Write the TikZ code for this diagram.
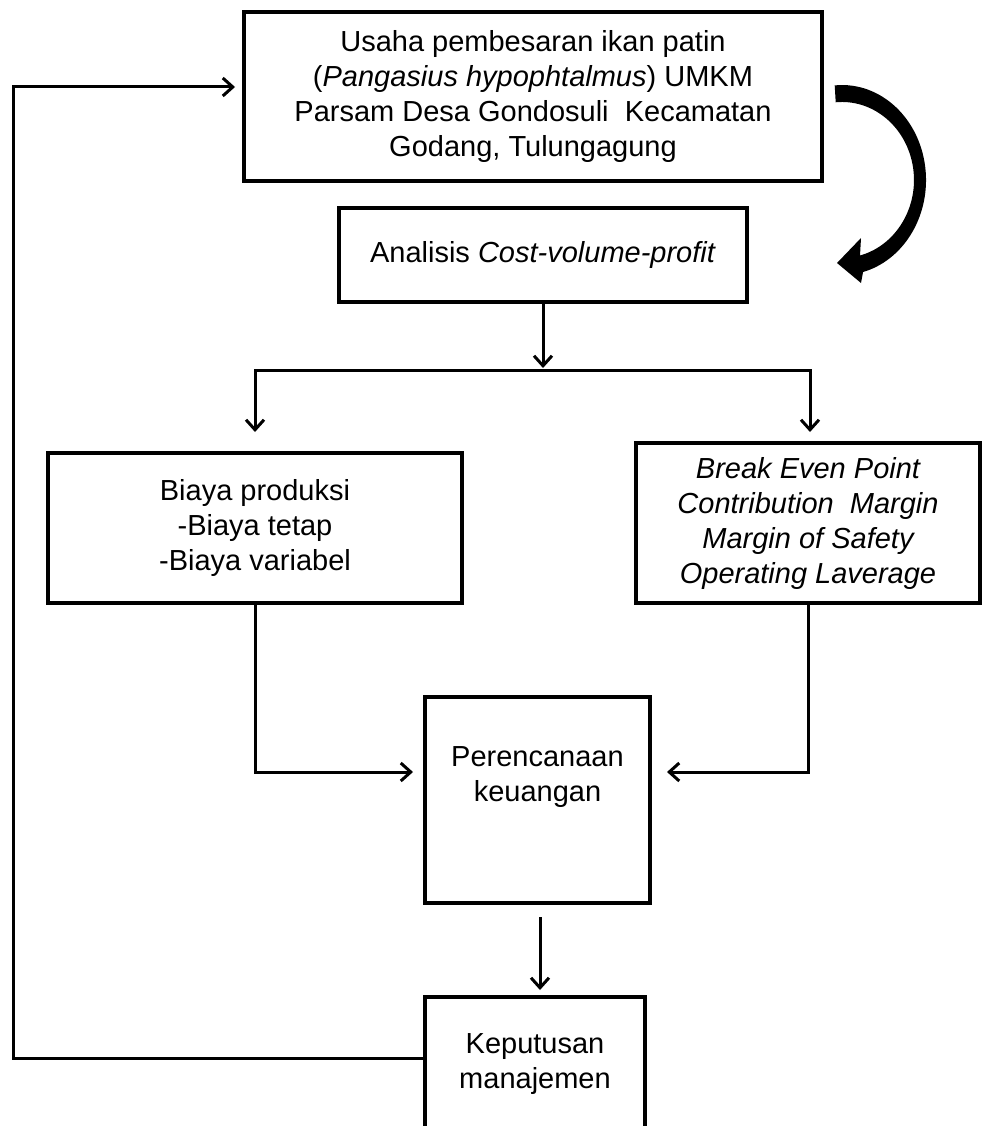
\documentclass[tikz,border=0pt]{standalone}
\usepackage{fontspec}
\setmainfont{Liberation Sans}
\usetikzlibrary{arrows.meta,calc}
\begin{document}
\begin{tikzpicture}[x=1pt,y=1pt,
  box/.style={draw=black,line width=3.2pt,rectangle,inner sep=0pt,align=center,
    font=\fontsize{29}{35}\selectfont},
  txt/.style={inner sep=0pt,align=center,font=\fontsize{29}{35}\selectfont},
  arr/.style={line width=3pt,-{Straight Barb[length=10pt,width=18pt]}},
  conn/.style={line width=3pt}]
\useasboundingbox (0,0) rectangle (982,-1126);
\begin{scope}
\clip (0,0) rectangle (982,-1126);
% boxes
\node[box,minimum width=578pt,minimum height=169pt] (top) at (533,-96.5)
  {Usaha pembesaran ikan patin\\(\textit{Pangasius hypophtalmus}) UMKM\\Parsam Desa Gondosuli\ \ Kecamatan\\Godang, Tulungagung};
\node[box,minimum width=408pt,minimum height=94pt] (anal) at (543,-255)
  {Analisis \textit{Cost-volume-profit}};
\node[box,minimum width=414pt,minimum height=150pt] (biaya) at (255,-528)
  {Biaya produksi\\-Biaya tetap\\-Biaya variabel};
\node[box,minimum width=344pt,minimum height=160pt] (bep) at (808,-523)
  {\itshape Break Even Point\\\itshape Contribution\ \ Margin\\\itshape Margin of Safety\\\itshape Operating Laverage};
\node[box,minimum width=225pt,minimum height=206pt] (plan) at (537.5,-800) {};
\node[txt] (plantxt) at (537.5,-777) {Perencanaan\\keuangan};
\node[box,minimum width=220pt,minimum height=160pt] (dec) at (535,-1077) {};
\node[txt] (dectxt) at (535,-1064) {Keputusan\\manajemen};
% coordinates
\coordinate (split) at (543,-368);
\coordinate (L) at (255,-370);
\coordinate (R) at (810,-370);
\coordinate (Lend) at (255,-432);
\coordinate (Rend) at (810,-432);
\coordinate (pinL) at (413,-772);
\coordinate (pinR) at (667,-772);
\coordinate (a1) at (540,-917);
\coordinate (a2) at (540,-990);
\coordinate (fbS) at (425,-1058);
\coordinate (fbA) at (13,-1058);
\coordinate (fbB) at (235,-87);
% connectors
\draw[arr] (anal.south) -- (split);
\draw[conn,line cap=rect] (L) -- (R);
\draw[arr] (L) -- (Lend);
\draw[arr] (R) -- (Rend);
\draw[arr] (biaya.south) |- (pinL);
\draw[arr] (bep.south) |- (pinR);
\draw[arr] (a1) -- (a2);
\draw[arr] (fbS) -- (fbA) |- (fbB);
% curved thick arrow
\fill[black] (834.7,-85.4) arc[start angle=95,end angle=-75.5,x radius=84pt,y radius=95pt]
  -- (861,-283) -- (837,-263) -- (861,-238) -- (860,-255.5)
  arc[start angle=-75.5,end angle=95,x radius=72pt,y radius=78pt] -- cycle;
\end{scope}
\end{tikzpicture}
\end{document}
